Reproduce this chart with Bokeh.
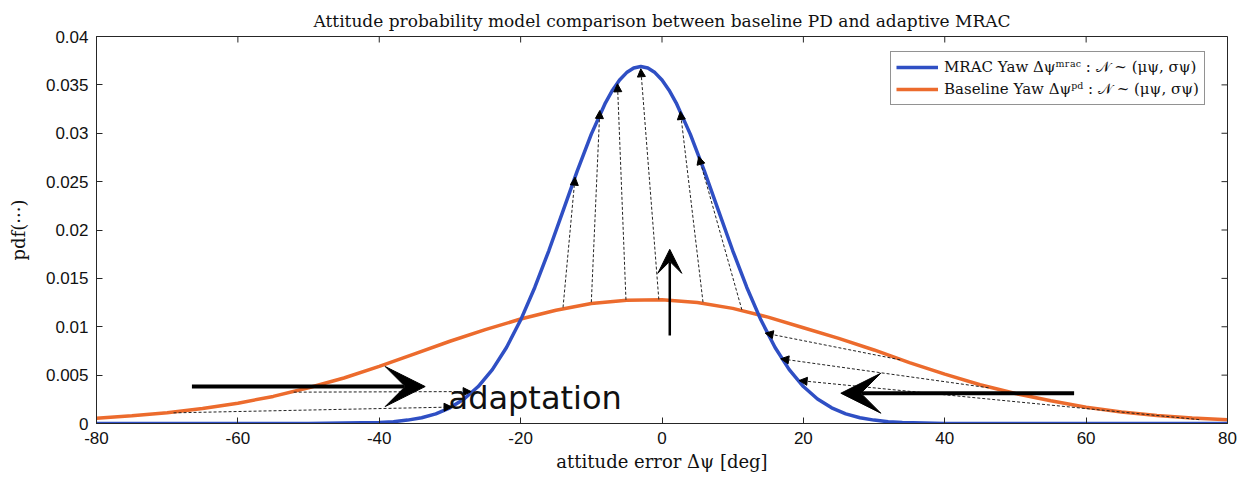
from bokeh.plotting import figure
from bokeh.models import (Range1d, FixedTicker, Arrow, NormalHead, VeeHead,
                          ColumnDataSource, Label, Legend, LegendItem)
from bokeh.embed import file_html
from bokeh.resources import INLINE

# ---- data ----
mrac_x = [-80, -60, -50, -40, -38, -36, -34, -32, -30, -28, -26, -24, -22, -20, -18, -16, -14,
          -12, -10, -8, -7, -6, -5, -4, -3, -2, -1, 0, 1, 2, 4, 6, 8, 10, 12, 14, 16, 18, 20,
          22, 24, 26, 28, 30, 32, 34, 40, 50, 60, 80]
mrac_y = [0.0, 0.0, 0.00001, 0.00010, 0.00019, 0.00035, 0.00060, 0.00100, 0.00162, 0.00253,
          0.00382, 0.00557, 0.00785, 0.01069, 0.01406, 0.01788, 0.02197, 0.02608, 0.02991,
          0.03315, 0.03445, 0.03550, 0.03627, 0.03674, 0.0369, 0.03674, 0.03627, 0.03550,
          0.03445, 0.03315, 0.02991, 0.02608, 0.02197, 0.01788, 0.01406, 0.01069, 0.00785,
          0.00557, 0.00382, 0.00253, 0.00162, 0.00100, 0.00060, 0.00035, 0.00019, 0.00010,
          0.00001, 0.0, 0.0, 0.0]

pd_x = [-80, -75, -70, -65, -60, -55, -50, -45, -40, -35, -30, -25, -20, -15, -10, -5, 0,
        5, 10, 15, 20, 25, 30, 35, 40, 45, 50, 55, 60, 65, 70, 75, 80]
pd_y = [0.00055, 0.0008, 0.00112, 0.00155, 0.0021, 0.0028, 0.0037, 0.0047, 0.0059, 0.0072,
        0.0085, 0.0097, 0.0108, 0.0117, 0.0124, 0.01275, 0.01278, 0.0125, 0.0119, 0.0110,
        0.0099, 0.0088, 0.0076, 0.0063, 0.0051, 0.0040, 0.0031, 0.00235, 0.00168, 0.0012,
        0.00083, 0.00056, 0.00038]

x_ticks = [-80, -60, -40, -20, 0, 20, 40, 60, 80]
x_tick_labels = ["-80", "-60", "-40", "-20", "0", "20", "40", "60", "80"]
y_ticks = [0, 0.005, 0.01, 0.015, 0.02, 0.025, 0.03, 0.035, 0.04]
y_tick_labels = ["0", "0.005", "0.01", "0.015", "0.02", "0.025", "0.03", "0.035", "0.04"]

title_text = "Attitude probability model comparison between baseline PD and adaptive MRAC"
x_label = "attitude error \u0394\u03c8 [deg]"
y_label = "pdf(\u00b7\u00b7\u00b7)"
mrac_label = "MRAC Yaw \u0394\u03c8\u1d50\u02b3\u1d43\u1d9c : \U0001D4A9 ~ (\u03bc\u03c8, \u03c3\u03c8)"
pd_label = "Baseline Yaw \u0394\u03c8\u1d56\u1d48 : \U0001D4A9 ~ (\u03bc\u03c8, \u03c3\u03c8)"

# annotation arrows (orange -> blue)
dash_x0 = [-14.0, -10.0, -5.1, -0.45, 5.8, 11.3, 33.7, 46.2, 76.0, -52.1, -69.1]
dash_y0 = [0.0120, 0.01254, 0.01279, 0.01282, 0.01254, 0.01175, 0.00658, 0.00369, 0.0004, 0.00324, 0.0011]
dash_x1 = [-12.3, -8.8, -6.3, -3.0, 2.6, 5.2, 14.6, 16.8, 19.4, -27.0, -29.7]
dash_y1 = [0.02546, 0.03235, 0.03511, 0.03666, 0.03225, 0.0276, 0.00934, 0.00669, 0.00444, 0.0033, 0.0017]

BLUE = "#2f4fc4"
ORANGE = "#ec6b2d"
INK = "#262626"
SERIF = "DejaVu Serif"
SANS = "Liberation Sans"

X0, X1 = x_ticks[0], x_ticks[-1]
Y0, Y1 = y_ticks[0], y_ticks[-1]

p = figure(width=1247, height=485, output_backend="svg", toolbar_location=None,
           x_range=Range1d(X0, X1), y_range=Range1d(Y0, Y1),
           min_border_left=96, min_border_right=20, min_border_top=36, min_border_bottom=62)
p.title.text = title_text
p.title.align = "center"
p.title.text_font = SERIF
p.title.text_font_size = "17px"
p.title.text_font_style = "normal"
p.title.text_color = "#111111"
p.title.standoff = 12
p.xgrid.visible = False
p.ygrid.visible = False
p.outline_line_color = INK
p.outline_line_width = 1
p.background_fill_color = "white"
p.border_fill_color = "white"

for ax in (p.xaxis[0], p.yaxis[0]):
    ax.major_tick_in = 6
    ax.major_tick_out = 0
    ax.minor_tick_in = 0
    ax.minor_tick_out = 0
    ax.axis_line_color = INK
    ax.major_tick_line_color = INK
    ax.major_label_text_font = SANS
    ax.major_label_text_font_size = "17px"
    ax.major_label_text_color = "#111111"
    ax.axis_label_text_font = SERIF
    ax.axis_label_text_font_size = "18px"
    ax.axis_label_text_font_style = "normal"
    ax.axis_label_text_color = "#111111"

p.xaxis[0].ticker = FixedTicker(ticks=x_ticks)
p.xaxis[0].major_label_overrides = dict(zip(x_ticks, x_tick_labels))
p.xaxis[0].major_label_standoff = 8
p.xaxis[0].axis_label = x_label
p.xaxis[0].axis_label_standoff = 4
p.yaxis[0].ticker = FixedTicker(ticks=y_ticks)
p.yaxis[0].major_label_overrides = dict(zip(y_ticks, y_tick_labels))
p.yaxis[0].major_label_standoff = 8
p.yaxis[0].axis_label = y_label
p.yaxis[0].axis_label_standoff = 14

# box ticks on the top and right edges (about 6 px long, pointing inward)
tick_dy = (Y1 - Y0) * 6 / 387
tick_dx = (X1 - X0) * 6 / 1131
p.segment(x0=x_ticks, y0=[Y1] * len(x_ticks), x1=x_ticks, y1=[Y1 - tick_dy] * len(x_ticks),
          line_color=INK, line_width=1)
p.segment(x0=[X1] * len(y_ticks), y0=y_ticks, x1=[X1 - tick_dx] * len(y_ticks), y1=y_ticks,
          line_color=INK, line_width=1)

r_pd = p.line(pd_x, pd_y, line_color=ORANGE, line_width=3.5)
r_mrac = p.line(mrac_x, mrac_y, line_color=BLUE, line_width=3.5)

dash_src = ColumnDataSource(dict(x0=dash_x0, y0=dash_y0, x1=dash_x1, y1=dash_y1))
p.add_layout(Arrow(source=dash_src, x_start="x0", y_start="y0", x_end="x1", y_end="y1",
                   line_color="#222222", line_width=1, line_dash="3 2",
                   end=NormalHead(size=8, fill_color="black", line_color="black", line_width=1)))

big_head = dict(fill_color="black", line_color="black", line_width=1)
p.add_layout(Arrow(x_start=-66.5, y_start=0.00382, x_end=-33.5, y_end=0.00382,
                   line_color="black", line_width=4, end=VeeHead(size=40, **big_head)))
p.add_layout(Arrow(x_start=58.3, y_start=0.00313, x_end=25.3, y_end=0.00313,
                   line_color="black", line_width=4, end=VeeHead(size=40, **big_head)))
p.add_layout(Arrow(x_start=1.1, y_start=0.0091, x_end=1.1, y_end=0.0180,
                   line_color="black", line_width=2.5, end=VeeHead(size=24, **big_head)))

p.add_layout(Label(x=-30.2, y=0.00262, text="adaptation", text_font="DejaVu Sans",
                   text_font_size="32px", text_color="#111111", text_baseline="alphabetic"))

legend = Legend(items=[LegendItem(label=mrac_label, renderers=[r_mrac]),
                       LegendItem(label=pd_label, renderers=[r_pd])],
                location=(794, 318), label_text_font=SERIF, label_text_font_size="15px",
                label_text_color="#111111", glyph_width=42, glyph_height=20, label_height=20,
                label_standoff=6, spacing=2, padding=5, margin=0,
                border_line_color=INK, border_line_width=1)
p.add_layout(legend, "center")

open("out.html", "w").write(file_html(p, INLINE))
